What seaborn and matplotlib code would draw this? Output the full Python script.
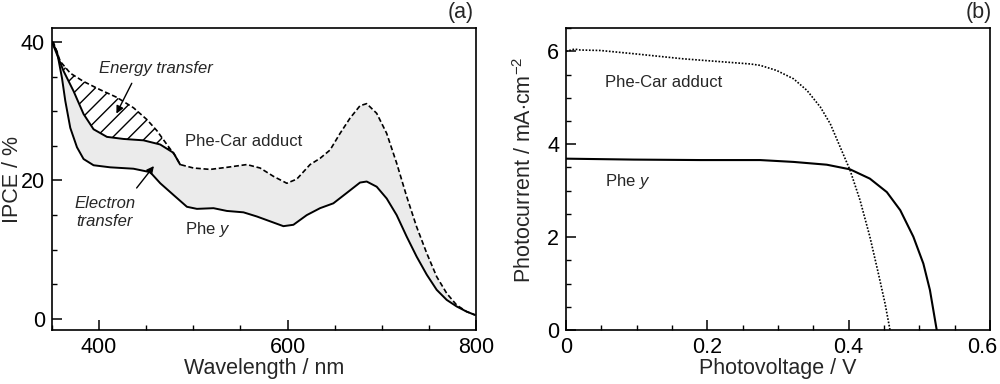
import numpy as np
import pandas as pd
import matplotlib
matplotlib.use("Agg")
import matplotlib.pyplot as plt
import matplotlib.transforms as mtransforms
from matplotlib.ticker import MultipleLocator
import seaborn as sns

# ---------------- Data: panel (a) IPCE spectra ----------------
adduct_wl = [350, 351.7, 358.8, 369.4, 383.5, 401.2, 418.9, 436.5, 450.7, 461.3, 471.9, 480.7,
             486, 500.2, 517.9, 535.6, 556.8, 570.9, 585, 599.2, 609.8, 623.9, 634.5,
             645.1, 655.7, 666.3, 676.9, 684, 694.6, 705.2, 715.8, 726.4, 737, 747.7,
             758.3, 768.9, 779.5, 790, 798.9]
adduct_ipce = [40, 39.9, 37.2, 35.5, 34.3, 33.1, 32.0, 30.5, 28.8, 27.2, 25.2, 23.6,
               22.3, 21.8, 21.6, 21.9, 22.3, 21.8, 20.6, 19.6, 20.2, 22.3, 23.2,
               24.4, 26.8, 29.0, 30.8, 31.1, 29.7, 26.8, 22.5, 17.7, 13.3, 9.5,
               6.1, 3.7, 2.0, 1.06, 0.58]

mid_wl = [350, 355.3, 362.3, 372.9, 383.5, 394.1, 408.3, 425.9, 447.1, 464.8, 478.9, 486]
mid_ipce = [40, 38.2, 35.8, 32.9, 29.6, 27.4, 26.3, 26.0, 25.8, 25.2, 24.0, 22.3]

phey_wl = [350, 355.3, 360.6, 364.1, 369.4, 376.5, 383.5, 394.1, 411.8, 436.5, 454.2, 464.9,
           479, 493.2, 503.8, 521.4, 535.6, 553.2, 567.4, 581.5, 595.6, 606.2, 620.4,
           634.5, 648.6, 662.8, 676.9, 684, 694.6, 705.2, 715.8, 726.4, 737, 747.7,
           758.3, 768.9, 779.5, 790, 798.9]
phey_ipce = [40, 38.6, 34.8, 31.5, 27.6, 24.8, 23.1, 22.2, 21.9, 21.7, 21.2, 19.6,
             17.9, 16.2, 15.9, 16.0, 15.6, 15.4, 14.8, 14.1, 13.4, 13.6, 15.0,
             16.0, 16.7, 18.2, 19.7, 19.85, 19.1, 17.4, 15.0, 11.9, 9.0, 6.4,
             4.2, 2.75, 1.8, 1.06, 0.58]

# ---------------- Data: panel (b) I-V curves ----------------
adduct_v = [0.0, 0.012, 0.02, 0.0485, 0.096, 0.166, 0.2605, 0.2747, 0.298, 0.322, 0.341,
            0.360, 0.374, 0.388, 0.402, 0.416, 0.430, 0.442, 0.4515, 0.4585]
adduct_i = [6.0, 6.05, 6.03, 6.02, 5.95, 5.84, 5.73, 5.70, 5.59, 5.41, 5.16,
            4.80, 4.44, 3.94, 3.44, 2.80, 2.01, 1.22, 0.57, 0.0]

phey_v = [0.0, 0.096, 0.19, 0.2747, 0.322, 0.369, 0.402, 0.430, 0.454, 0.473, 0.4915,
          0.5057, 0.515, 0.5246]
phey_i = [3.69, 3.67, 3.66, 3.66, 3.62, 3.56, 3.46, 3.26, 2.97, 2.58, 2.01,
          1.43, 0.86, 0.0]

sns.set_style("ticks")
plt.rcParams['font.family'] = ['Liberation Sans', 'DejaVu Sans']
plt.rcParams['mathtext.fontset'] = 'custom'
plt.rcParams['mathtext.rm'] = 'Liberation Sans'
plt.rcParams['mathtext.it'] = 'Liberation Sans:italic'
plt.rcParams['hatch.linewidth'] = 1.0
plt.rcParams['axes.linewidth'] = 1.2

fig = plt.figure(figsize=(10, 3.84), dpi=100)
axA = fig.add_axes([0.052, 0.1406, 0.424, 0.786])
axB = fig.add_axes([0.566, 0.1406, 0.424, 0.786])

# ---- panel (a) ----
upper_x = list(mid_wl) + [w for w in adduct_wl if w > 486]
upper_y = list(mid_ipce) + [v for w, v in zip(adduct_wl, adduct_ipce) if w > 486]
axA.fill(np.r_[upper_x, phey_wl[::-1]], np.r_[upper_y, phey_ipce[::-1]],
         facecolor='#ebebeb', edgecolor='none', zorder=1)
hx = [w for w in adduct_wl if w <= 486]
hy = [v for w, v in zip(adduct_wl, adduct_ipce) if w <= 486]
axA.fill(np.r_[hx, mid_wl[::-1]], np.r_[hy, mid_ipce[::-1]],
         facecolor='none', edgecolor='black', hatch='//', linewidth=0, zorder=1)

dfA1 = pd.DataFrame({'wl': adduct_wl, 'ipce': adduct_ipce})
dfA2 = pd.DataFrame({'wl': mid_wl, 'ipce': mid_ipce})
dfA3 = pd.DataFrame({'wl': phey_wl, 'ipce': phey_ipce})
sns.lineplot(data=dfA1, x='wl', y='ipce', ax=axA, color='black', lw=1.2,
             linestyle=(0, (3, 1.6)), sort=False, zorder=3)
sns.lineplot(data=dfA2, x='wl', y='ipce', ax=axA, color='black', lw=1.4, sort=False, zorder=3)
sns.lineplot(data=dfA3, x='wl', y='ipce', ax=axA, color='black', lw=1.4, sort=False, zorder=3)

axA.set_xlim(350, 800)
axA.set_ylim(-1.6, 42)
axA.xaxis.set_major_locator(MultipleLocator(200))
axA.xaxis.set_minor_locator(MultipleLocator(50))
axA.yaxis.set_major_locator(MultipleLocator(20))
axA.yaxis.set_minor_locator(MultipleLocator(5))
axA.set_xlabel('Wavelength / nm', fontsize=15.5, labelpad=0)
axA.set_ylabel('IPCE / %', fontsize=15.5)
axA.yaxis.set_label_coords(-0.069, 0.5)

axA.text(460, 36.2, 'Energy transfer', fontsize=12, style='italic', ha='center', va='center')
axA.annotate('', xy=(417, 29.3), xytext=(436, 34.4),
             arrowprops=dict(arrowstyle='-|>', color='black', lw=1.0, mutation_scale=11))
axA.text(553, 25.6, 'Phe-Car adduct', fontsize=12, ha='center', va='center')
axA.text(406, 15.4, 'Electron\ntransfer', fontsize=12, style='italic', ha='center',
         va='center', linespacing=1.3)
axA.annotate('', xy=(460, 22.4), xytext=(438, 18.6),
             arrowprops=dict(arrowstyle='-|>', color='black', lw=1.0, mutation_scale=11))
axA.text(515, 12.9, 'Phe $\\mathit{y}$', fontsize=12, ha='center', va='center')
axA.text(0.995, 1.053, '(a)', transform=axA.transAxes, fontsize=15.5, ha='right', va='center')

# ---- panel (b) ----
dfB1 = pd.DataFrame({'v': adduct_v, 'i': adduct_i})
dfB2 = pd.DataFrame({'v': phey_v, 'i': phey_i})
sns.lineplot(data=dfB1, x='v', y='i', ax=axB, color='black', lw=1.2,
             linestyle=(0, (1, 1)), sort=False)
sns.lineplot(data=dfB2, x='v', y='i', ax=axB, color='black', lw=1.5, sort=False)
axB.set_xlim(0, 0.6)
axB.set_ylim(0, 6.5)
axB.xaxis.set_minor_locator(MultipleLocator(0.05))
axB.yaxis.set_major_locator(MultipleLocator(2))
axB.yaxis.set_minor_locator(MultipleLocator(0.5))
axB.set_xticks([0, 0.2, 0.4, 0.6])
axB.set_xticklabels(['0', '0.2', '0.4', '0.6'])
axB.set_xlabel('Photovoltage / V', fontsize=15.5, labelpad=0)
axB.set_ylabel('Photocurrent / mA$\\cdot$cm$^{-2}$', fontsize=15.5)
axB.yaxis.set_label_coords(-0.071, 0.53)
axB.text(0.055, 5.34, 'Phe-Car adduct', fontsize=12, ha='left', va='center')
axB.text(0.055, 3.19, 'Phe $\\mathit{y}$', fontsize=12, ha='left', va='center')
axB.text(1.005, 1.053, '(b)', transform=axB.transAxes, fontsize=15.5, ha='right', va='center')

for ax in (axA, axB):
    for s in ax.spines.values():
        s.set_visible(True)
        s.set_color('black')
        s.set_linewidth(1.2)
    ax.tick_params(which='both', direction='in', top=False, right=False, colors='black',
                   labelsize=15.5)
    ax.tick_params(which='major', length=7, width=1.1, pad=5)
    ax.tick_params(which='minor', length=3.5, width=1.0)

# nudge last x tick label of panel (b) inside the figure, as in the reference
lbl = axB.get_xticklabels()[-1]
lbl.set_transform(lbl.get_transform() +
                  mtransforms.ScaledTranslation(-8 / 100, 0, fig.dpi_scale_trans))

fig.savefig('out.png', dpi=100)
